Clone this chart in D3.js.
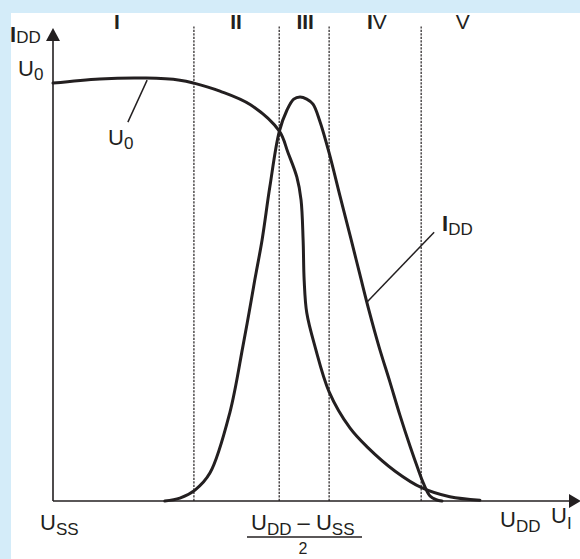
<!DOCTYPE html>
<html><head><meta charset="utf-8">
<script src="https://cdn.jsdelivr.net/npm/d3@7"></script>
<style>
html,body{margin:0;padding:0;background:#fff;}
svg{display:block;}
text{font-family:"Liberation Sans",Arial,Helvetica,sans-serif;fill:#231f20;}
</style></head>
<body>
<script>
// Data (x: input voltage, 0..100 = U_SS..U_DD range units; y: relative level)
const u0X = [0, 9.0, 17.9, 24.4, 27.1, 32.1, 37.9, 43.5, 45.2, 46.9, 47.7, 48.1, 48.3, 48.8, 50.4, 53.1, 57.1, 60.4, 65.8, 71.0, 76.3, 82.1];
const u0Y = [99.5, 100.5, 100.7, 100.2, 99.5, 97.6, 94.4, 88.1, 82.9, 77.1, 71.7, 62.1, 52.6, 44.8, 36.7, 26.0, 17.4, 12.9, 7.1, 3.1, 1.0, 0.2];
const iddX = [21.5, 24.4, 27.3, 30.2, 34.0, 36.5, 37.7, 38.8, 40.2, 41.7, 43.5, 45.0, 46.3, 47.5, 48.8, 50.0, 51.3, 53.1, 55.2, 57.3, 59.0, 60.8, 62.7, 64.8, 66.7, 68.7, 70.2, 71.2, 72.5, 73.7, 74.8];
const iddY = [0, 0.7, 2.6, 6.7, 21.0, 36.7, 44.8, 52.6, 62.1, 74.8, 87.9, 93.1, 95.7, 96.2, 95.7, 94.5, 90.5, 82.9, 72.6, 62.4, 54.0, 45.2, 36.7, 28.3, 20.5, 12.9, 7.6, 4.3, 1.2, 0.3, 0];
const regionBounds = [27.1, 43.5, 53.1, 70.8];
const regionLabels = ["I", "II", "III", "IV", "V"];
const regionCenters = [12.3, 35.2, 48.5, 62.3, 78.8];
const regionTop = 113;
// leader lines: [fromX, fromY, toX, toY] in data units
const u0Leader = [18.1, 100.2, 14.4, 90.2];
const iddLeader = [73.3, 64.0, 60.4, 47.4];

const W = 580, H = 559;
const ink = "#231f20";
const svg = d3.select("body").append("svg").attr("width", W).attr("height", H);
svg.append("rect").attr("width", W).attr("height", H).attr("fill", "#d4ecf9");
svg.append("rect").attr("x", 11).attr("y", 13).attr("width", W - 11).attr("height", H - 13).attr("fill", "#fff");

const x = d3.scaleLinear().domain([0, 100]).range([53, 573]);
const y = d3.scaleLinear().domain([0, 100]).range([501, 81]);

// region dotted lines
svg.selectAll("line.reg").data(regionBounds).enter().append("line")
  .attr("x1", d => x(d)).attr("x2", d => x(d))
  .attr("y1", y(0)).attr("y2", y(regionTop))
  .attr("stroke", ink).attr("stroke-width", 1.2).attr("stroke-dasharray", "2.2,1.3");

// region labels
regionLabels.forEach((lab, i) => {
  const t = svg.append("text").attr("x", x(regionCenters[i])).attr("y", 29)
    .attr("text-anchor", "middle").attr("font-size", 21);
  for (const ch of lab) {
    t.append("tspan").attr("font-weight", ch === "I" ? "bold" : "normal").text(ch);
  }
});

// axes
svg.append("line").attr("x1", x(0)).attr("x2", 572).attr("y1", y(0)).attr("y2", y(0))
  .attr("stroke", ink).attr("stroke-width", 1.6);
svg.append("line").attr("x1", x(0)).attr("x2", x(0)).attr("y1", y(0)).attr("y2", 38)
  .attr("stroke", ink).attr("stroke-width", 1.6);
svg.append("path").attr("d", `M${x(0)},28 L${x(0) - 7},41 L${x(0) + 7},41 Z`).attr("fill", ink);
svg.append("path").attr("d", `M581,${y(0)} L569,${y(0) - 7} L569,${y(0) + 7} Z`).attr("fill", ink);

// curves
const line = d3.line().x(d => x(d[0])).y(d => y(d[1])).curve(d3.curveCatmullRom.alpha(0.5));
svg.append("path").datum(u0X.map((v, i) => [v, u0Y[i]])).attr("d", line)
  .attr("fill", "none").attr("stroke", ink).attr("stroke-width", 3).attr("stroke-linecap", "round");
svg.append("path").datum(iddX.map((v, i) => [v, iddY[i]])).attr("d", line)
  .attr("fill", "none").attr("stroke", ink).attr("stroke-width", 3).attr("stroke-linecap", "round");

// leaders
[u0Leader, iddLeader].forEach(l => {
  svg.append("line").attr("x1", x(l[0])).attr("y1", y(l[1])).attr("x2", x(l[2])).attr("y2", y(l[3]))
    .attr("stroke", ink).attr("stroke-width", 1.5);
});

// helper for main + subscript text
function label(px, py, main, sub, opts = {}) {
  const t = svg.append("text").attr("x", px).attr("y", py).attr("font-size", opts.size || 22);
  t.append("tspan").attr("font-weight", opts.boldMain ? "bold" : "normal").text(main);
  t.append("tspan").attr("dy", opts.dy || 5).attr("font-size", opts.subSize || 17).text(sub);
  return t;
}
label(10, 42, "I", "DD", { boldMain: true, dy: 1 });
label(18, 76, "U", "0", { dy: 4 });
label(108, 145, "U", "0", { dy: 4 });
label(442, 231, "I", "DD", { boldMain: true, dy: 4 });
label(40, 530, "U", "SS", { dy: 5 });
label(500, 527, "U", "DD", { dy: 5 });
label(551, 523, "U", "I", { dy: 6 });

// fraction
const fr = svg.append("text").attr("x", 251).attr("y", 530).attr("font-size", 22);
fr.append("tspan").text("U");
fr.append("tspan").attr("dy", 5).attr("font-size", 17).text("DD");
fr.append("tspan").attr("dy", -5).text(" \u2013 U");
fr.append("tspan").attr("dy", 5).attr("font-size", 17).text("SS");
svg.append("line").attr("x1", 247).attr("x2", 362).attr("y1", 537).attr("y2", 537)
  .attr("stroke", ink).attr("stroke-width", 1.6);
svg.append("text").attr("x", 303).attr("y", 554).attr("text-anchor", "middle").attr("font-size", 16).text("2");
</script>
</body></html>
